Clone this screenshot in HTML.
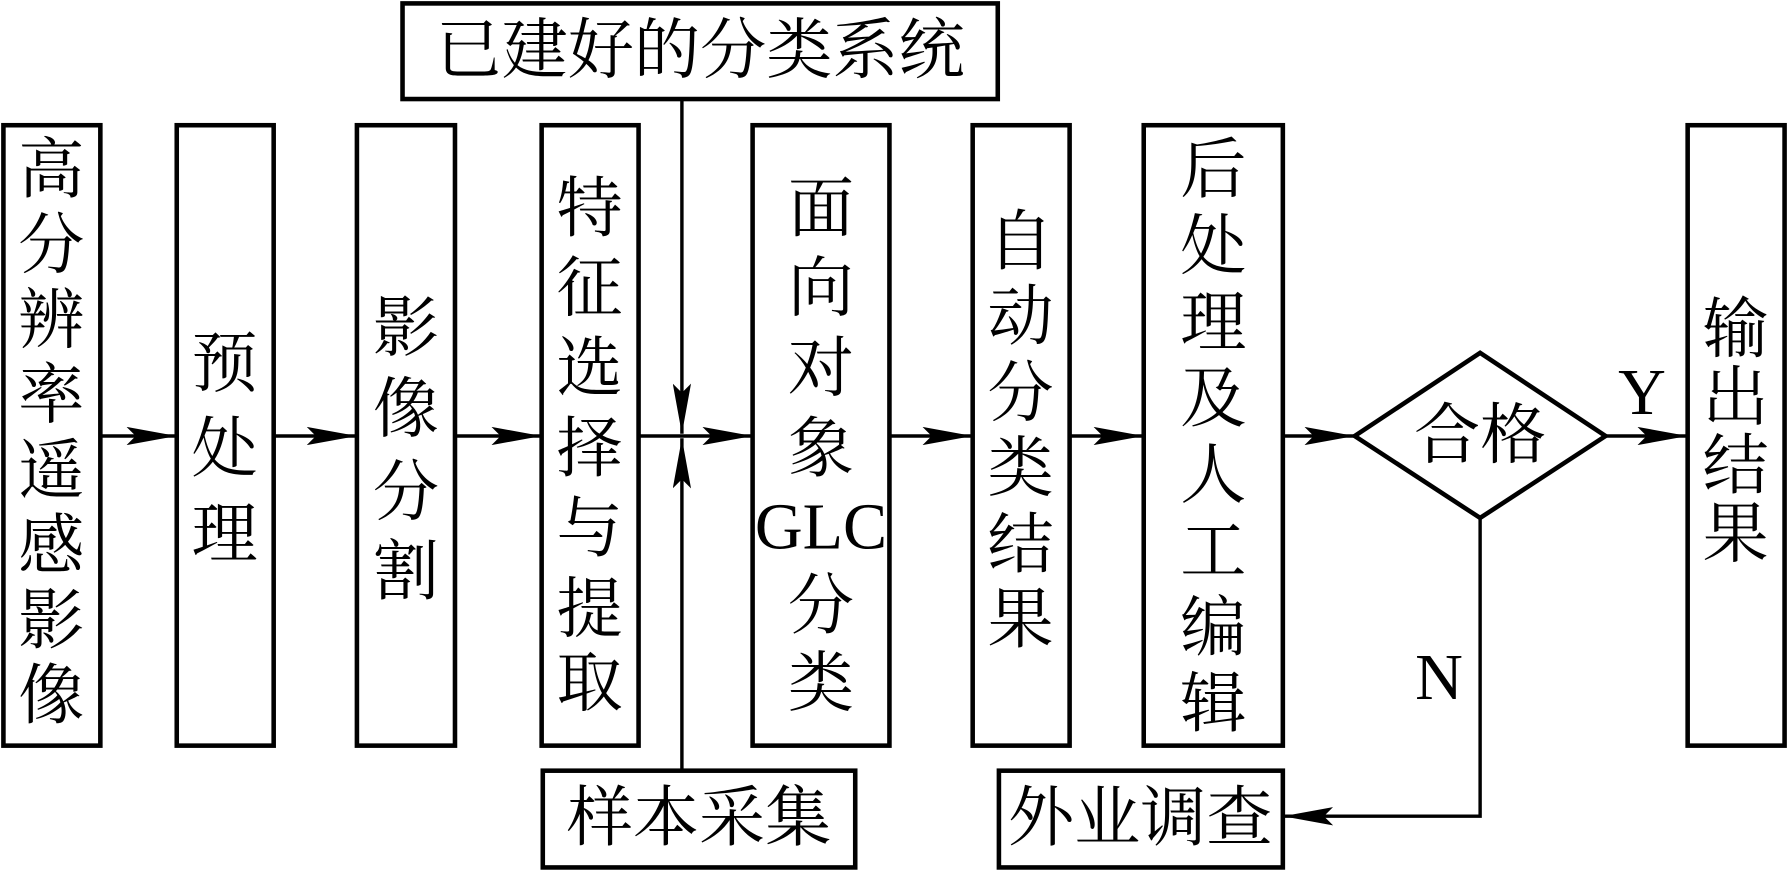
<!DOCTYPE html>
<html><head><meta charset="utf-8"><style>
html,body{margin:0;padding:0;background:#fff;}
svg{display:block;}
text{font-family:"Liberation Serif","Noto Serif CJK SC",serif;font-size:58px;fill:#000;text-anchor:middle;dominant-baseline:central;}
</style></head><body>
<svg width="1788" height="872" viewBox="0 0 1568 766" preserveAspectRatio="none" xmlns="http://www.w3.org/2000/svg">
<defs><marker id="a" markerWidth="12" markerHeight="10" refX="12" refY="5" orient="auto" markerUnits="userSpaceOnUse" viewBox="0 0 12 10"><path d="M0,0 L12,5 L0,10 L3,5 z" fill="#000"/></marker>
<marker id="b" markerWidth="44" markerHeight="16" refX="44" refY="8" orient="auto" markerUnits="userSpaceOnUse" viewBox="0 0 44 16"><path d="M0,0 L44,8 L0,16 L8,8 z" fill="#000"/></marker></defs>
<g fill="none" stroke="#000" stroke-width="4">
<rect x="3" y="110" width="85" height="545"/>
<rect x="155" y="110" width="85" height="545"/>
<rect x="313" y="110" width="86" height="545"/>
<rect x="475" y="110" width="85" height="545"/>
<rect x="660" y="110" width="120" height="545"/>
<rect x="853" y="110" width="85" height="545"/>
<rect x="1003" y="110" width="122" height="545"/>
<rect x="1480" y="110" width="85" height="545"/>
<rect x="353" y="3" width="522" height="84"/>
<rect x="476" y="677" width="274" height="85"/>
<rect x="876" y="677" width="249" height="85"/>
<polygon points="1188,383 1298,310 1408,383 1298,455"/>
</g>
<g stroke="#000" stroke-width="3" fill="none">
<line x1="88" y1="383" x2="155" y2="383" marker-end="url(#b)"/>
<line x1="240" y1="383" x2="313" y2="383" marker-end="url(#b)"/>
<line x1="399" y1="383" x2="475" y2="383" marker-end="url(#b)"/>
<line x1="560" y1="383" x2="660" y2="383" marker-end="url(#b)"/>
<line x1="780" y1="383" x2="853" y2="383" marker-end="url(#b)"/>
<line x1="938" y1="383" x2="1003" y2="383" marker-end="url(#b)"/>
<line x1="1125" y1="383" x2="1188" y2="383" marker-end="url(#b)"/>
<line x1="1408" y1="383" x2="1480" y2="383" marker-end="url(#b)"/>
<line x1="598" y1="87" x2="598" y2="381" marker-end="url(#b)"/>
<line x1="598" y1="677" x2="598" y2="385" marker-end="url(#b)"/>
<polyline points="1298,455 1298,717 1125,717" marker-end="url(#b)"/>
</g>
<text x="45" y="150">高</text><text x="45" y="216">分</text><text x="45" y="282">辨</text><text x="45" y="348">率</text><text x="45" y="414">遥</text><text x="45" y="480">感</text><text x="45" y="546">影</text><text x="45" y="612">像</text>
<text x="197" y="320">预</text><text x="197" y="395">处</text><text x="197" y="470">理</text>
<text x="356" y="289">影</text><text x="356" y="360">像</text><text x="356" y="433">分</text><text x="356" y="503">割</text>
<text x="517" y="184">特</text><text x="517" y="254">征</text><text x="517" y="324">选</text><text x="517" y="395">择</text><text x="517" y="465">与</text><text x="517" y="536">提</text><text x="517" y="601">取</text>
<text x="720" y="184">面</text><text x="720" y="254">向</text><text x="720" y="324">对</text><text x="720" y="395">象</text><text x="720" y="463">GLC</text><text x="720" y="533">分</text><text x="720" y="601">类</text>
<text x="895" y="213">自</text><text x="895" y="279">动</text><text x="895" y="346">分</text><text x="895" y="412">类</text><text x="895" y="479">结</text><text x="895" y="545">果</text>
<text x="1064" y="150">后</text><text x="1064" y="217">处</text><text x="1064" y="284">理</text><text x="1064" y="351">及</text><text x="1064" y="418">人</text><text x="1064" y="485">工</text><text x="1064" y="552">编</text><text x="1064" y="619">辑</text>
<text x="1522" y="290">输</text><text x="1522" y="350">出</text><text x="1522" y="410">结</text><text x="1522" y="470">果</text>
<text x="614" y="45">已建好的分类系统</text>
<text x="613" y="719">样本采集</text>
<text x="1000" y="719">外业调查</text>
<text x="1298" y="383">合格</text>
<text x="1440" y="345">Y</text>
<text x="1262" y="595">N</text>
</svg>
</body></html>
